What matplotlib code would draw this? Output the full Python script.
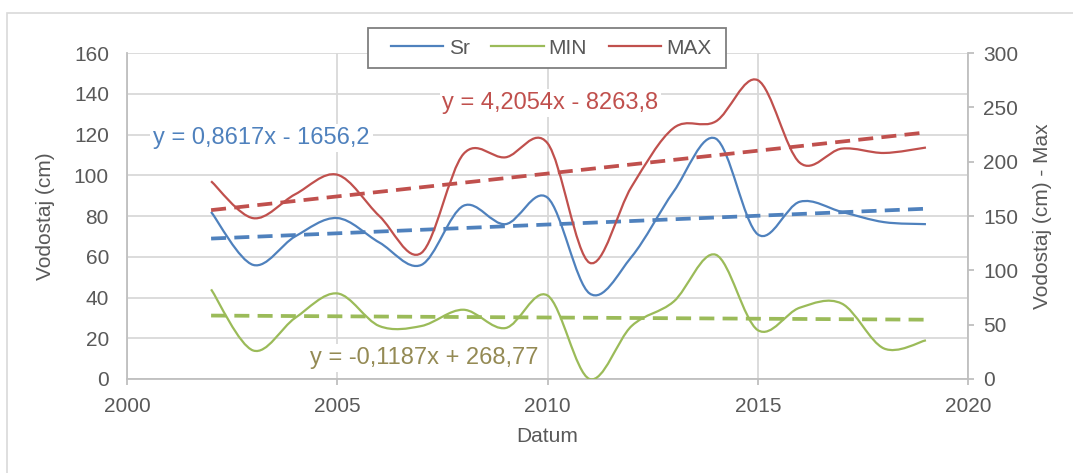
import numpy as np
import matplotlib
matplotlib.use("Agg")
import matplotlib.pyplot as plt
from matplotlib.path import Path
from matplotlib.patches import PathPatch, Rectangle
from matplotlib.lines import Line2D

plt.rcParams['font.family'] = ['Liberation Sans', 'DejaVu Sans']

# data
years = [2002, 2003, 2004, 2005, 2006, 2007, 2008, 2009, 2010,
         2011, 2012, 2013, 2014, 2015, 2016, 2017, 2018, 2019]
sr = [82, 56, 70, 79, 67, 56, 85, 76, 89, 42, 60, 92, 118, 71, 87, 82, 77, 76]
vmin = [44, 14, 30, 42, 26, 26, 34, 25, 41, 0, 26, 38, 61, 24, 35, 37, 15, 19]
vmax = [182, 148, 170, 188, 150, 116, 207, 204, 217, 107, 177, 231, 237, 275,
        199, 212, 208, 213]

# trendline coefficients (slope, intercept) as printed on the chart
trend_sr = [0.8617, -1656.2]
trend_min = [-0.1187, 268.77]
trend_max = [4.2054, -8263.8]

series_names = ['Sr', 'MIN', 'MAX']
x_ticks = [2000, 2005, 2010, 2015, 2020]
left_ticks = [0, 20, 40, 60, 80, 100, 120, 140, 160]
right_ticks = [0, 50, 100, 150, 200, 250, 300]

BLUE = '#4F81BD'
GREEN = '#9BBB59'
RED = '#C0504D'
OLIVE = '#948A54'
GRID = '#D9D9D9'
AXC = '#BFBFBF'
TXT = '#595959'
FS = 15


def smooth_path(x, y):
    # excel-like smoothed line: bezier segments through every point
    n = len(x)
    verts = [(x[0], y[0])]
    codes = [Path.MOVETO]
    for i in range(n - 1):
        x0, y0 = (x[i - 1], y[i - 1]) if i > 0 else (x[i], y[i])
        x3, y3 = (x[i + 2], y[i + 2]) if i + 2 < n else (x[i + 1], y[i + 1])
        c1 = (x[i] + (x[i + 1] - x0) / 6, y[i] + (y[i + 1] - y0) / 6)
        c2 = (x[i + 1] - (x3 - x[i]) / 6, y[i + 1] - (y3 - y[i]) / 6)
        verts += [c1, c2, (x[i + 1], y[i + 1])]
        codes += [Path.CURVE4] * 3
    return Path(verts, codes)


fig = plt.figure(figsize=(10.73, 4.73), dpi=100)
W, H = 1073, 473
ax = fig.add_axes([127 / W, 1 - 379 / H, (968 - 127) / W, (379 - 53) / H])
ax2 = ax.twinx()

# outer chart border
fig.patches.append(Rectangle((7 / W, -0.1), 1.5, 1 - 13 / H + 0.1,
                             transform=fig.transFigure, fill=False,
                             edgecolor=GRID, linewidth=1.2))

ax.set_xlim(2000, 2020)
ax.set_ylim(0, 160)
ax2.set_ylim(0, 300)
ax.set_xticks(x_ticks)
ax.set_yticks(left_ticks)
ax2.set_yticks(right_ticks)

ax.set_axisbelow(True)
ax.grid(True, color=GRID, linewidth=1.3)

for a in (ax, ax2):
    for s in a.spines.values():
        s.set_visible(False)
ax.spines['left'].set_visible(True)
ax.spines['left'].set_color(AXC)
ax.spines['left'].set_linewidth(1.3)
ax.spines['bottom'].set_visible(True)
ax.spines['bottom'].set_color(AXC)
ax.spines['bottom'].set_linewidth(1.3)
ax2.spines['right'].set_visible(True)
ax2.spines['right'].set_color(AXC)
ax2.spines['right'].set_linewidth(1.3)

ax.tick_params(axis='y', length=0, pad=13, labelsize=FS, labelcolor=TXT)
ax.tick_params(axis='x', length=4, width=1.3, color=AXC, pad=9,
               labelsize=FS, labelcolor=TXT)
ax2.tick_params(axis='y', length=4, width=1.3, color=AXC, pad=7,
                labelsize=FS, labelcolor=TXT)

ax.set_xlabel('Datum', fontsize=FS, color=TXT)
ax.xaxis.set_label_coords(0.5, -0.147)
ax.set_ylabel('Vodostaj (cm)', fontsize=FS, color=TXT)
ax.yaxis.set_label_coords(-0.0856, 0.5)
ax2.set_ylabel('Vodostaj (cm) - Max', fontsize=FS, color=TXT)
ax2.yaxis.set_label_coords(1.077, 0.5)

yrs = np.array(years, dtype=float)

# smoothed series
ax.add_patch(PathPatch(smooth_path(yrs, sr), fill=False, edgecolor=BLUE,
                       linewidth=1.6, zorder=3))
ax.add_patch(PathPatch(smooth_path(yrs, vmin), fill=False, edgecolor=GREEN,
                       linewidth=1.6, zorder=3))
ax2.add_patch(PathPatch(smooth_path(yrs, vmax), fill=False, edgecolor=RED,
                        linewidth=1.6, zorder=3))

# linear trendlines
tx = np.array([years[0], years[-1]], dtype=float)
ax.plot(tx, trend_sr[0] * tx + trend_sr[1], color=BLUE, lw=2.7,
        dashes=(4, 2.2), zorder=4)
ax.plot(tx, trend_min[0] * tx + trend_min[1], color=GREEN, lw=2.7,
        dashes=(4, 2.2), zorder=4)
ax2.plot(tx, trend_max[0] * tx + trend_max[1], color=RED, lw=2.7,
         dashes=(4, 2.2), zorder=4)

# trendline equations
box = dict(facecolor='white', edgecolor='none', pad=2)
ax.text(2003.2, 118.3, 'y = 0,8617x - 1656,2', color=BLUE, fontsize=17,
        ha='center', va='center', bbox=box, zorder=5)
ax.text(2010.07, 135.5, 'y = 4,2054x - 8263,8', color=RED, fontsize=17,
        ha='center', va='center', bbox=box, zorder=5)
ax.text(2007.08, 10.3, 'y = -0,1187x + 268,77', color=OLIVE, fontsize=17,
        ha='center', va='center', bbox=box, zorder=5)

# legend box drawn separately to get excel's wide padding
ax2.add_patch(Rectangle((368 / W, 1 - 68 / H), (726 - 368) / W, 40 / H,
                        transform=fig.transFigure, facecolor='white',
                        edgecolor='#7F7F7F', linewidth=1.3, clip_on=False,
                        zorder=9))
handles = [Line2D([], [], color=c, lw=1.6) for c in (BLUE, GREEN, RED)]
leg = ax2.legend(handles, series_names, ncol=3, loc='center',
                 bbox_to_anchor=(551.5 / W, 1 - 48 / H),
                 bbox_transform=fig.transFigure, fontsize=FS, frameon=False,
                 handlelength=2.5, handletextpad=0.25,
                 columnspacing=1.05, borderpad=0.2, borderaxespad=0)
for t in leg.get_texts():
    t.set_color(TXT)
leg.set_zorder(10)

fig.savefig('out.png', dpi=100)
